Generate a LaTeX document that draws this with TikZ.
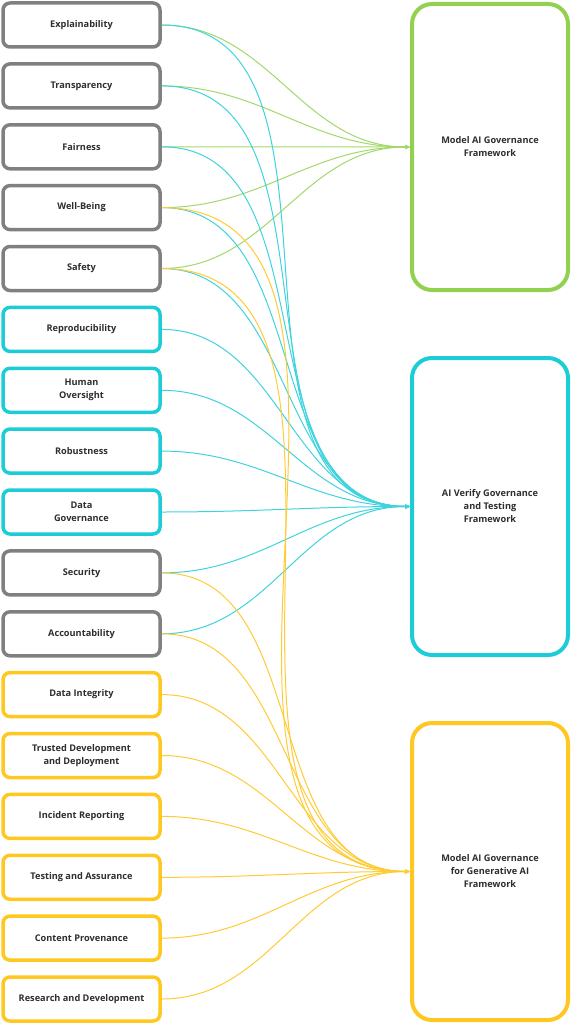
\documentclass[tikz,border=0pt]{standalone}
\usepackage{fontspec}
\setmainfont{Open Sans}
\usetikzlibrary{arrows.meta}
\definecolor{bgray}{HTML}{808080}
\definecolor{bgreen}{HTML}{92D050}
\definecolor{bcyan}{HTML}{1CCDD8}
\definecolor{byellow}{HTML}{FFC820}
\definecolor{lgreen}{HTML}{A2D86A}
\definecolor{lcyan}{HTML}{3ED3DE}
\definecolor{lyellow}{HTML}{FFCB35}
\definecolor{txt}{HTML}{2E2E2E}
\begin{document}
\begin{tikzpicture}[x=1pt,y=-1pt,
  lbox/.style={draw=#1, line width=3.5pt, rounded corners=7pt, minimum width=157pt,
    minimum height=44pt, align=center, fill=white, inner sep=0pt, text=txt,
    font=\bfseries\fontsize{9.2}{13}\selectfont},
  rbox/.style={draw=#1, line width=4pt, rounded corners=20pt, minimum width=156pt,
    minimum height=286pt, align=center, fill=white, inner sep=0pt, text=txt,
    font=\bfseries\fontsize{9.2}{13}\selectfont},
  link/.style={draw=#1, line width=1pt, out=0, in=180,
    -{Triangle[length=5pt,width=4pt]}}]
\useasboundingbox (0,0) rectangle (572,1024);
% left boxes
\node[lbox=bgray]   (expl)  at (81.5,25.0)  {Explainability};
\node[lbox=bgray]   (trans) at (81.5,85.9)  {Transparency};
\node[lbox=bgray]   (fair)  at (81.5,146.8) {Fairness};
\node[lbox=bgray]   (well)  at (81.5,207.6) {Well-Being};
\node[lbox=bgray]   (safe)  at (81.5,268.5) {Safety};
\node[lbox=bcyan]   (repro) at (81.5,329.4) {Reproducibility};
\node[lbox=bcyan]   (human) at (81.5,390.3) {Human\\Oversight};
\node[lbox=bcyan]   (robu)  at (81.5,451.1) {Robustness};
\node[lbox=bcyan]   (dgov)  at (81.5,512.0) {Data\\Governance};
\node[lbox=bgray]   (secu)  at (81.5,572.9) {Security};
\node[lbox=bgray]   (acco)  at (81.5,633.8) {Accountability};
\node[lbox=byellow] (dint)  at (81.5,694.6) {Data Integrity};
\node[lbox=byellow] (trus)  at (81.5,755.5) {Trusted Development\\and Deployment};
\node[lbox=byellow] (inci)  at (81.5,816.4) {Incident Reporting};
\node[lbox=byellow] (test)  at (81.5,877.3) {Testing and Assurance};
\node[lbox=byellow] (cont)  at (81.5,938.1) {Content Provenance};
\node[lbox=byellow] (rese)  at (81.5,999.0) {Research and Development};
% right boxes
\node[rbox=bgreen]  (fw1) at (490,147) {Model AI Governance\\Framework};
\node[rbox=bcyan, minimum height=297pt]   (fw2) at (490,506.5) {AI Verify Governance\\and Testing\\Framework};
\node[rbox=byellow, minimum height=297pt] (fw3) at (490,871.5) {Model AI Governance\\for Generative AI\\Framework};
% links
\foreach \s in {expl,trans,fair,well,safe}
  \draw[link=lgreen] (\s.east) to (fw1.west);
\foreach \s in {expl,trans,fair,well,safe,repro,human,robu,dgov,secu,acco}
  \draw[link=lcyan] (\s.east) to (fw2.west);
\foreach \s in {well,safe,secu,acco,dint,trus,inci,test,cont,rese}
  \draw[link=lyellow] (\s.east) to (fw3.west);
\end{tikzpicture}
\end{document}
